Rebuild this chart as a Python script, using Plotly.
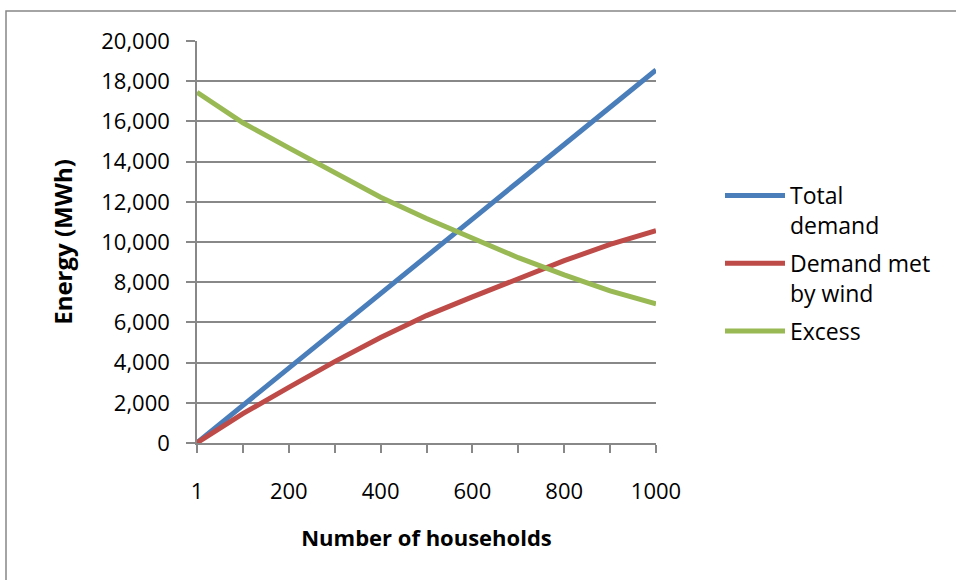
import plotly.graph_objects as go

# Household counts (category axis) and yearly energy figures in MWh
households = ["1", "100", "200", "300", "400", "500", "600", "700", "800", "900", "1000"]
total_demand = [19, 1860, 3720, 5570, 7430, 9290, 11140, 13000, 14850, 16710, 18560]
met_by_wind = [10, 1460, 2770, 4050, 5250, 6340, 7270, 8160, 9070, 9880, 10560]
excess = [17450, 15930, 14680, 13430, 12230, 11170, 10180, 9220, 8360, 7570, 6920]

series = [
    ("Total<br>demand", total_demand, "#4A7EBB"),
    ("Demand met<br>by wind", met_by_wind, "#BE4B48"),
    ("Excess", excess, "#98B954"),
]

y_ticks = list(range(0, 20001, 2000))
y_ticktext = [f"{v:,}" for v in y_ticks]
# label every other household category, tick marks on all of them
x_ticktext = [h if i % 2 == 0 else "" for i, h in enumerate(households)]

FONT = "Open Sans"
GRID = "#888888"

fig = go.Figure()
for i, (name, vals, color) in enumerate(series):
    fig.add_trace(go.Scatter(
        x=households, y=vals, name=name, mode="lines",
        line=dict(color=color, width=5),
        legendgroup=f"g{i}",
        hoverinfo="skip",
    ))

# plot area in pixels: left 197, right 656, top 41, bottom 443
L, R, T, B = 197, 656, 41, 443
W, H = 956, 580


def px_to_paper_x(px):
    return (px - L) / (R - L)


def px_to_paper_y(py):
    return (B - py) / (B - T)


fig.update_layout(
    width=W, height=H,
    margin=dict(l=L, r=W - R, t=T, b=H - B, pad=0),
    paper_bgcolor="white", plot_bgcolor="white",
    font=dict(family=FONT, size=22, color="black"),
    showlegend=True,
    legend=dict(
        x=px_to_paper_x(720), y=px_to_paper_y(174),
        xanchor="left", yanchor="top",
        valign="top", itemwidth=60,
        font=dict(family=FONT, size=23, color="black"),
        bgcolor="rgba(0,0,0,0)", tracegroupgap=5,
    ),
    xaxis=dict(
        type="category", range=[0, len(households) - 1],
        tickmode="array", tickvals=households, ticktext=x_ticktext,
        ticks="outside", ticklen=8, tickwidth=1.5, tickcolor=GRID,
        showline=True, linecolor=GRID, linewidth=1.5,
        showgrid=False, zeroline=False,
        ticklabelstandoff=20,
        tickfont=dict(family=FONT, size=22, color="black"),
        title=dict(text="<b>Number of households</b>", standoff=26,
                   font=dict(family=FONT, size=22, color="black")),
    ),
    yaxis=dict(
        range=[0, 20000],
        tickmode="array", tickvals=y_ticks, ticktext=y_ticktext,
        ticks="outside", ticklen=9, tickwidth=1.5, tickcolor=GRID,
        showline=True, linecolor=GRID, linewidth=1.5,
        showgrid=True, gridcolor=GRID, gridwidth=1.5,
        zeroline=False,
        ticklabelstandoff=12,
        tickfont=dict(family=FONT, size=22, color="black"),
        title=dict(text="<b>Energy (MWh)</b>", standoff=22,
                   font=dict(family=FONT, size=24, color="black")),
    ),
    shapes=[dict(
        type="rect", xref="paper", yref="paper", layer="below",
        x0=px_to_paper_x(6), x1=px_to_paper_x(970),
        y0=px_to_paper_y(600), y1=px_to_paper_y(11),
        line=dict(color="#878787", width=1.5), fillcolor="rgba(0,0,0,0)",
    )],
)

fig.write_html("out.html")
